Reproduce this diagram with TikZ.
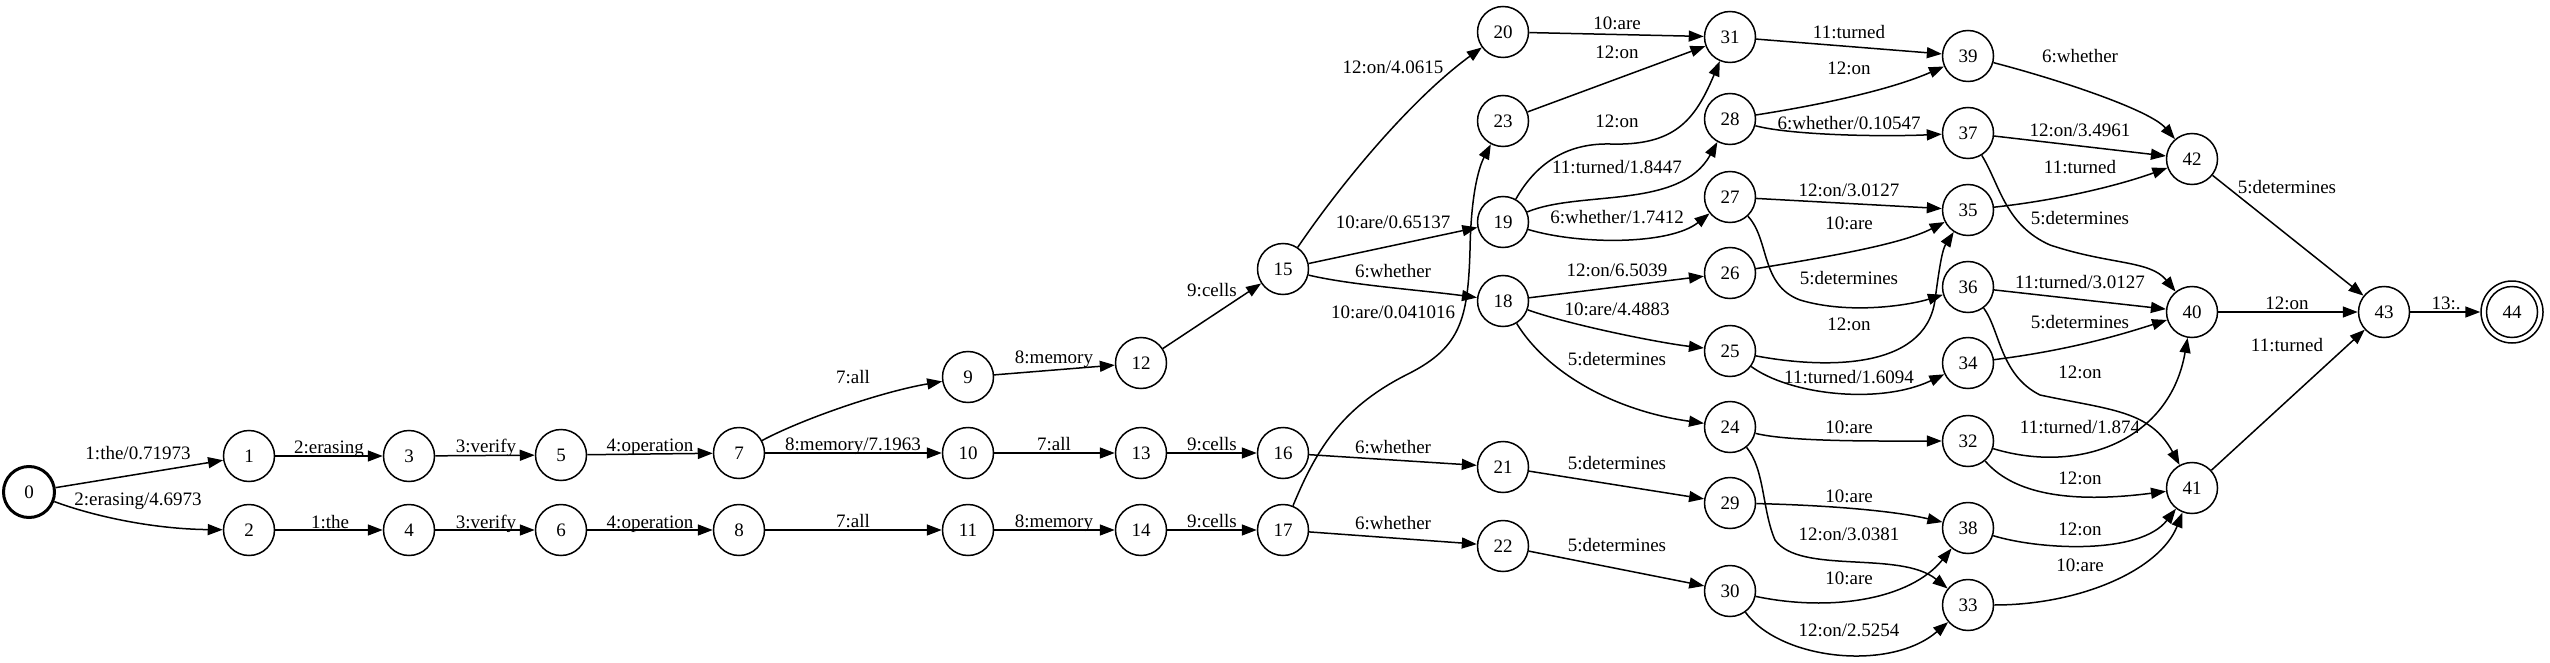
\documentclass[tikz,border=0pt]{standalone}
\usepackage{fontspec}
\setmainfont{Liberation Serif}
\usetikzlibrary{arrows.meta}
\begin{document}
\begin{tikzpicture}[x=1pt,y=-1pt,
  st/.style={circle,draw,line width=1.5pt,minimum size=51pt,inner sep=0pt,
    font=\fontsize{19}{19}\selectfont,text height=12.5pt,text depth=0pt},
  startst/.style={st,line width=3pt},
  finalst/.style={st,minimum size=62pt},
  lab/.style={inner sep=0pt,font=\fontsize{19}{19}\selectfont,text height=12.5pt,text depth=0pt},
  arr/.style={line width=1.5pt,-{Triangle[length=15pt,width=11pt]}}]
\useasboundingbox (0,0) rectangle (2550,663);
% states
\node[startst] (n0) at (29,492) {0};
\node[st] (n1) at (249,456) {1};
\node[st] (n2) at (249,530) {2};
\node[st] (n3) at (409,456) {3};
\node[st] (n4) at (409,530) {4};
\node[st] (n5) at (561,455) {5};
\node[st] (n6) at (561,530) {6};
\node[st] (n7) at (739,453) {7};
\node[st] (n8) at (739,530) {8};
\node[st] (n9) at (968,377) {9};
\node[st] (n10) at (968,453) {10};
\node[st] (n11) at (968,530) {11};
\node[st] (n12) at (1141,363) {12};
\node[st] (n13) at (1141,453) {13};
\node[st] (n14) at (1141,530) {14};
\node[st] (n15) at (1283,269) {15};
\node[st] (n16) at (1283,453) {16};
\node[st] (n17) at (1283,530) {17};
\node[st] (n20) at (1503,32) {20};
\node[st] (n23) at (1503,121) {23};
\node[st] (n19) at (1503,222) {19};
\node[st] (n18) at (1503,301) {18};
\node[st] (n21) at (1503,467) {21};
\node[st] (n22) at (1503,546) {22};
\node[st] (n31) at (1730,37) {31};
\node[st] (n28) at (1730,119) {28};
\node[st] (n27) at (1730,197) {27};
\node[st] (n26) at (1730,273) {26};
\node[st] (n25) at (1730,351) {25};
\node[st] (n24) at (1730,427) {24};
\node[st] (n29) at (1730,503) {29};
\node[st] (n30) at (1730,591) {30};
\node[st] (n39) at (1968,56) {39};
\node[st] (n37) at (1968,133) {37};
\node[st] (n35) at (1968,210) {35};
\node[st] (n36) at (1968,287) {36};
\node[st] (n34) at (1968,363) {34};
\node[st] (n32) at (1968,441) {32};
\node[st] (n38) at (1968,528) {38};
\node[st] (n33) at (1968,605) {33};
\node[st] (n42) at (2192,159) {42};
\node[st] (n40) at (2192,312) {40};
\node[st] (n41) at (2192,488) {41};
\node[st] (n43) at (2384,312) {43};
\node[finalst] (n44) at (2512,312) {44};
\draw[line width=1.5pt] (n44.center) circle[radius=25.5pt];
% edges
\draw[arr] (n0) -- (n1);
\draw[arr] (n0) .. controls (90,515) and (150,529) .. (n2);
\draw[arr] (n1) -- (n3);
\draw[arr] (n2) -- (n4);
\draw[arr] (n3) -- (n5);
\draw[arr] (n4) -- (n6);
\draw[arr] (n5) -- (n7);
\draw[arr] (n6) -- (n8);
\draw[arr] (n7) .. controls (800,420) and (880,392) .. (n9);
\draw[arr] (n7) -- (n10);
\draw[arr] (n8) -- (n11);
\draw[arr] (n9) -- (n12);
\draw[arr] (n10) -- (n13);
\draw[arr] (n11) -- (n14);
\draw[arr] (n13) -- (n16);
\draw[arr] (n14) -- (n17);
\draw[arr] (n12) -- (n15);
\draw[arr] (n15) .. controls (1340,185) and (1410,100) .. (n20);
\draw[arr] (n15) -- (n19);
\draw[arr] (n15) .. controls (1350,285) and (1420,290) .. (n18);
\draw[arr] (n17) .. controls (1318,445) and (1345,405) .. (1410,373)
   .. controls (1460,347) and (1468,320) .. (1470,250)
   .. controls (1471,190) and (1480,165) .. (n23);
\draw[arr] (n16) -- (n21);
\draw[arr] (n17) -- (n22);
\draw[arr] (n20) -- (n31);
\draw[arr] (n23) -- (n31);
\draw[arr] (n19) .. controls (1535,165) and (1565,143) .. (1610,144)
   .. controls (1675,146) and (1695,120) .. (n31);
\draw[arr] (n19) .. controls (1580,190) and (1680,210) .. (n28);
\draw[arr] (n19) .. controls (1580,245) and (1670,245) .. (n27);
\draw[arr] (n18) -- (n26);
\draw[arr] (n18) .. controls (1570,325) and (1660,343) .. (n25);
\draw[arr] (n18) .. controls (1545,370) and (1610,410) .. (n24);
\draw[arr] (n21) -- (n29);
\draw[arr] (n22) -- (n30);
\draw[arr] (n31) -- (n39);
\draw[arr] (n28) .. controls (1820,105) and (1890,90) .. (n39);
\draw[arr] (n28) .. controls (1790,135) and (1880,137) .. (n37);
\draw[arr] (n27) -- (n35);
\draw[arr] (n26) .. controls (1820,258) and (1900,245) .. (n35);
\draw[arr] (n27) .. controls (1770,240) and (1760,285) .. (1800,300)
   .. controls (1850,315) and (1910,305) .. (n36);
\draw[arr] (n25) .. controls (1820,368) and (1925,372) .. (1935,300)
   .. controls (1939,270) and (1942,250) .. (n35);
\draw[arr] (n25) .. controls (1790,395) and (1880,405) .. (n34);
\draw[arr] (n24) .. controls (1790,442) and (1880,441) .. (n32);
\draw[arr] (n29) .. controls (1820,505) and (1890,510) .. (n38);
\draw[arr] (n24) .. controls (1765,470) and (1762,510) .. (1775,540)
   .. controls (1800,575) and (1900,550) .. (n33);
\draw[arr] (n30) .. controls (1830,612) and (1910,600) .. (n38);
\draw[arr] (n30) .. controls (1780,660) and (1890,672) .. (n33);
\draw[arr] (n39) .. controls (2060,80) and (2150,110) .. (n42);
\draw[arr] (n37) -- (n42);
\draw[arr] (n35) .. controls (2060,200) and (2120,185) .. (n42);
\draw[arr] (n37) .. controls (2000,185) and (2005,225) .. (2050,245)
   .. controls (2110,265) and (2150,260) .. (n40);
\draw[arr] (n36) -- (n40);
\draw[arr] (n34) .. controls (2070,350) and (2120,335) .. (n40);
\draw[arr] (n36) .. controls (2000,330) and (2000,375) .. (2040,395)
   .. controls (2110,410) and (2150,410) .. (n41);
\draw[arr] (n32) .. controls (2080,475) and (2170,440) .. (n40);
\draw[arr] (n32) .. controls (2010,490) and (2060,505) .. (n41);
\draw[arr] (n38) .. controls (2040,550) and (2140,555) .. (n41);
\draw[arr] (n33) .. controls (2080,605) and (2160,570) .. (n41);
\draw[arr] (n42) -- (n43);
\draw[arr] (n40) -- (n43);
\draw[arr] (n41) -- (n43);
\draw[arr] (n43) -- (n44);
% labels
\node[lab] (l1) at (138,453) {1:the/0.71973};
\node[lab] (l2) at (138,499) {2:erasing/4.6973};
\node[lab] (l3) at (329,447) {2:erasing};
\node[lab] (l4) at (330,522) {1:the};
\node[lab] (l5) at (486,446) {3:verify};
\node[lab] (l6) at (486,522) {3:verify};
\node[lab] (l7) at (650,445) {4:operation};
\node[lab] (l8) at (650,522) {4:operation};
\node[lab] (l9) at (853,377) {7:all};
\node[lab] (l10) at (853,444) {8:memory/7.1963};
\node[lab] (l11) at (853,521) {7:all};
\node[lab] (l12) at (1054,357) {8:memory};
\node[lab] (l13) at (1054,444) {7:all};
\node[lab] (l14) at (1054,521) {8:memory};
\node[lab] (l15) at (1212,444) {9:cells};
\node[lab] (l16) at (1212,521) {9:cells};
\node[lab] (l17) at (1212,290) {9:cells};
\node[lab] (l18) at (1393,67) {12:on/4.0615};
\node[lab] (l19) at (1393,222) {10:are/0.65137};
\node[lab] (l20) at (1393,271) {6:whether};
\node[lab] (l21) at (1393,312) {10:are/0.041016};
\node[lab] (l22) at (1393,447) {6:whether};
\node[lab] (l23) at (1393,523) {6:whether};
\node[lab] (l24) at (1617,23) {10:are};
\node[lab] (l25) at (1617,52) {12:on};
\node[lab] (l26) at (1617,121) {12:on};
\node[lab] (l27) at (1617,167) {11:turned/1.8447};
\node[lab] (l28) at (1617,217) {6:whether/1.7412};
\node[lab] (l29) at (1617,270) {12:on/6.5039};
\node[lab] (l30) at (1617,309) {10:are/4.4883};
\node[lab] (l31) at (1617,359) {5:determines};
\node[lab] (l32) at (1617,463) {5:determines};
\node[lab] (l33) at (1617,545) {5:determines};
\node[lab] (l34) at (1849,32) {11:turned};
\node[lab] (l35) at (1849,68) {12:on};
\node[lab] (l36) at (1849,123) {6:whether/0.10547};
\node[lab] (l37) at (1849,190) {12:on/3.0127};
\node[lab] (l38) at (1849,223) {10:are};
\node[lab] (l39) at (1849,278) {5:determines};
\node[lab] (l40) at (1849,324) {12:on};
\node[lab] (l41) at (1849,377) {11:turned/1.6094};
\node[lab] (l42) at (1849,427) {10:are};
\node[lab] (l43) at (1849,496) {10:are};
\node[lab] (l44) at (1849,534) {12:on/3.0381};
\node[lab] (l45) at (1849,578) {10:are};
\node[lab] (l46) at (1849,630) {12:on/2.5254};
\node[lab] (l47) at (2080,56) {6:whether};
\node[lab] (l48) at (2080,130) {12:on/3.4961};
\node[lab] (l49) at (2080,167) {11:turned};
\node[lab] (l50) at (2080,218) {5:determines};
\node[lab] (l51) at (2080,282) {11:turned/3.0127};
\node[lab] (l52) at (2080,322) {5:determines};
\node[lab] (l53) at (2080,372) {12:on};
\node[lab] (l54) at (2080,427) {11:turned/1.874};
\node[lab] (l55) at (2080,478) {12:on};
\node[lab] (l56) at (2080,529) {12:on};
\node[lab] (l57) at (2080,565) {10:are};
\node[lab] (l58) at (2287,187) {5:determines};
\node[lab] (l59) at (2287,303) {12:on};
\node[lab] (l60) at (2287,345) {11:turned};
\node[lab] (l61) at (2446,303) {13:.};
\end{tikzpicture}
\end{document}
